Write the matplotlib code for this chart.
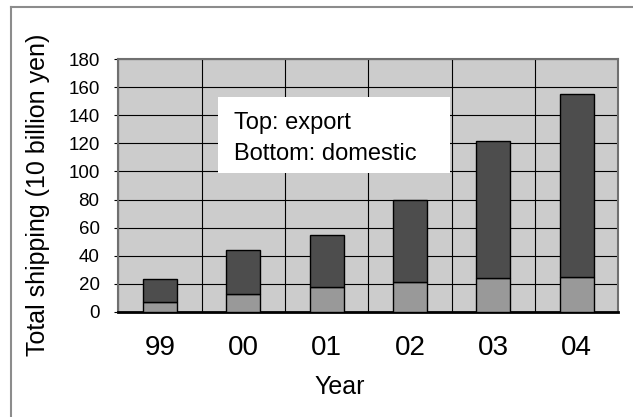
import matplotlib
matplotlib.use('Agg')
from matplotlib import pyplot as plt
from matplotlib.patches import Rectangle
from matplotlib.lines import Line2D
import numpy as np

plt.rcParams['font.family'] = ['Liberation Sans', 'DejaVu Sans']

years = ['99', '00', '01', '02', '03', '04']
domestic = [6.7, 12.4, 17.8, 21.0, 24.0, 24.7]
total = [23.1, 44.0, 54.5, 79.9, 122.0, 155.0]
export = [t - d for t, d in zip(total, domestic)]
yticks = [0, 20, 40, 60, 80, 100, 120, 140, 160, 180]

W, H = 633, 417
fig = plt.figure(figsize=(W / 100, H / 100), dpi=100)
ax = fig.add_axes([118.3 / W, 1 - 311.7 / H, 500 / W, 252.4 / H])
ax.set_facecolor('#cccccc')

x = np.arange(len(years))
ax.bar(x, domestic, width=0.41, color='#999999', edgecolor='black', linewidth=1, zorder=3)
ax.bar(x, export, width=0.41, bottom=domestic, color='#4d4d4d', edgecolor='black',
       linewidth=1, zorder=3)

ax.set_xlim(-0.5, len(years) - 0.5)
ax.set_ylim(0, 180)
ax.set_yticks(yticks)
ax.set_xticks(x)
ax.set_xticklabels(years)
ax.set_xticks(np.arange(len(years) + 1) - 0.5, minor=True)

ax.grid(axis='y', which='major', color='black', linewidth=0.8, zorder=1)
ax.grid(axis='x', which='minor', color='black', linewidth=0.8, zorder=1)
ax.set_axisbelow(True)

ax.tick_params(axis='y', labelsize=13.5, length=3, width=0.8, pad=10.5, direction='out')
ax.tick_params(axis='x', which='major', labelsize=20, length=0, pad=17)
ax.tick_params(axis='x', which='minor', length=0)

for s in ['top', 'right', 'left']:
    ax.spines[s].set_color('#707070')
    ax.spines[s].set_linewidth(1.5)
ax.spines['bottom'].set_color('black')
ax.spines['bottom'].set_linewidth(2)

# labels
fig.text(340 / W, 1 - 394.3 / H, 'Year', ha='center', va='baseline', fontsize=18)
fig.text(45 / W, 1 - 194.7 / H, 'Total shipping (10 billion yen)', ha='center',
         va='baseline', rotation=90, rotation_mode='anchor', fontsize=18)

# note box
ax.add_patch(Rectangle((218.3 / W, 1 - 172.7 / H), 231.7 / W, 75.4 / H,
                       transform=fig.transFigure, facecolor='white', edgecolor='none',
                       zorder=5, clip_on=False))
fig.text(234 / W, 1 - 129.3 / H, 'Top: export', ha='left', va='baseline',
         fontsize=17, zorder=6)
fig.text(234 / W, 1 - 160 / H, 'Bottom: domestic', ha='left', va='baseline',
         fontsize=17, zorder=6)

# outer frame
fx, fy = 10.5 / W, 1 - 6.5 / H
fig.add_artist(Line2D([fx, fx], [0, fy], transform=fig.transFigure, color='#8c8c8c', lw=1.5))
fig.add_artist(Line2D([fx, 1], [fy, fy], transform=fig.transFigure, color='#8c8c8c', lw=1.5))

fig.savefig('out.png', dpi=100)
